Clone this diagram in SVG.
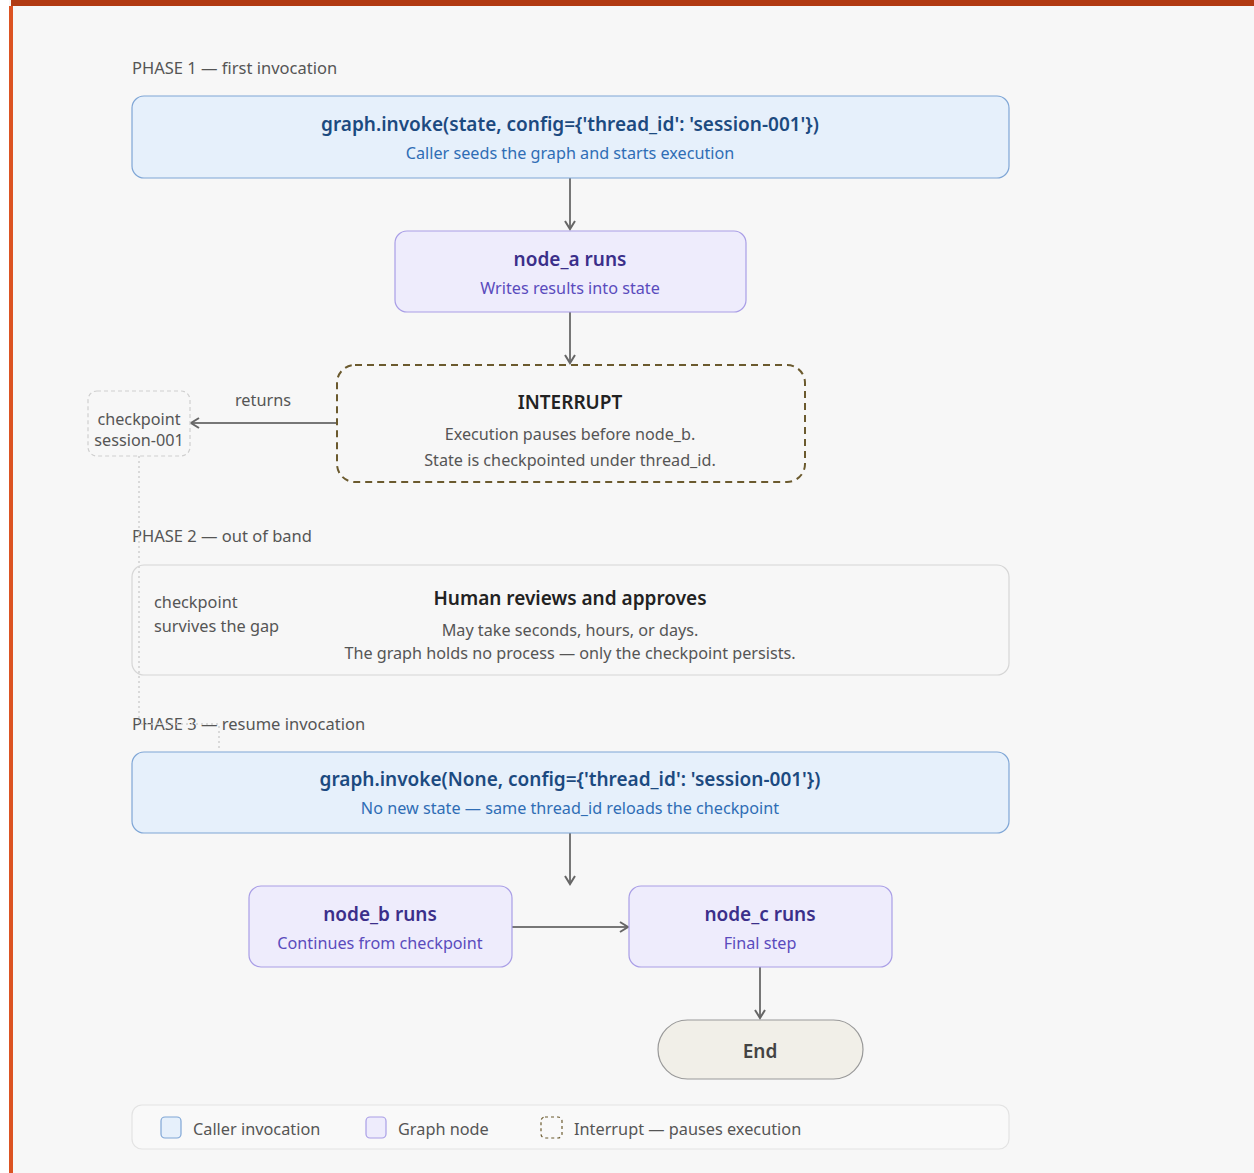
<svg xmlns="http://www.w3.org/2000/svg" width="1254" height="1173" viewBox="0 0 1254 1173">
  <style>
    text { font-family: "Noto Sans", "Open Sans", sans-serif; }
    .phase { font-size: 16.5px; fill: #555; }
    .title { font-size: 19px; font-weight: 600; text-anchor: middle; }
    .sub { font-size: 16.2px; text-anchor: middle; }
    .body { font-size: 16.3px; fill: #555; }
    .caller rect { fill: #e6f0fb; stroke: #7fa6d6; stroke-width: 1.2; }
    .caller .title { fill: #1c4a80; }
    .caller .sub { fill: #2f6db5; }
    .gnode rect { fill: #eeecfc; stroke: #a99ee6; stroke-width: 1.2; }
    .gnode .title { fill: #3b2f8a; }
    .gnode .sub { fill: #5a4bbd; }
    .edge { stroke: #777; stroke-width: 2; fill: none; }
  </style>
  <defs>
    <marker id="arrow" viewBox="0 0 12 12" refX="10" refY="6" markerWidth="12" markerHeight="12" markerUnits="userSpaceOnUse" orient="auto">
      <path d="M2,1 L10,6 L2,11" fill="none" stroke="#666" stroke-width="2"/>
    </marker>
  </defs>

  <!-- page frame -->
  <rect x="0" y="0" width="1254" height="1173" fill="#ffffff"/>
  <rect x="9" y="0" width="1245" height="1173" fill="#f7f7f7"/>
  <rect x="11" y="0" width="1243" height="6" fill="#b13a12"/>
  <rect x="9" y="6" width="4" height="1167" fill="#dc5322"/>

  <!-- section labels -->
  <text class="phase" x="132" y="74">PHASE 1 — first invocation</text>
  <text class="phase" x="132" y="542">PHASE 2 — out of band</text>
  <text class="phase" x="132" y="730">PHASE 3 — resume invocation</text>

  <g id="connectors">
    <path class="edge" d="M570,178 V229" marker-end="url(#arrow)"/>
    <path class="edge" d="M570,312 V363" marker-end="url(#arrow)"/>
    <path class="edge" d="M337,423 H191" marker-end="url(#arrow)"/>
    <text class="body" x="263" y="406" text-anchor="middle">returns</text>
    <path d="M139,456 V724 H219 V751" fill="none" stroke="#cfcfcf" stroke-width="1.5" stroke-dasharray="2 3"/>
    <path class="edge" d="M570,833 V884" marker-end="url(#arrow)"/>
    <path class="edge" d="M512,927 H628" marker-end="url(#arrow)"/>
    <path class="edge" d="M760,967 V1018" marker-end="url(#arrow)"/>
  </g>

  <g id="invoke-first" class="caller">
    <rect x="132" y="96" width="877" height="82" rx="12"/>
    <text class="title" x="570" y="131">graph.invoke(state, config={'thread_id': 'session-001'})</text>
    <text class="sub" x="570" y="159">Caller seeds the graph and starts execution</text>
  </g>

  <g id="node-a" class="gnode">
    <rect x="395" y="231" width="351" height="81" rx="12"/>
    <text class="title" x="570" y="266">node_a runs</text>
    <text class="sub" x="570" y="294">Writes results into state</text>
  </g>

  <g id="interrupt">
    <rect x="337" y="365" width="468" height="117" rx="18" fill="none" stroke="#6b5a2e" stroke-width="2" stroke-dasharray="7 5"/>
    <text class="title" x="570" y="409" fill="#222">INTERRUPT</text>
    <text class="sub" x="570" y="440" fill="#555">Execution pauses before node_b.</text>
    <text class="sub" x="570" y="466" fill="#555">State is checkpointed under thread_id.</text>
  </g>

  <g id="checkpoint">
    <rect x="88" y="391" width="102" height="65" rx="9" fill="#f7f7f7" stroke="#cfcfcf" stroke-width="1.2" stroke-dasharray="4 3"/>
    <text class="sub" x="139" y="425" fill="#555">checkpoint</text>
    <text class="sub" x="139" y="446" fill="#555">session-001</text>
  </g>

  <g id="human-review">
    <rect x="132" y="565" width="877" height="110" rx="12" fill="none" stroke="#d6d6d6" stroke-width="1.2"/>
    <text class="body" x="154" y="608">checkpoint</text>
    <text class="body" x="154" y="632">survives the gap</text>
    <text class="title" x="570" y="605" fill="#222">Human reviews and approves</text>
    <text class="sub" x="570" y="636" fill="#555">May take seconds, hours, or days.</text>
    <text class="sub" x="570" y="659" fill="#555">The graph holds no process — only the checkpoint persists.</text>
  </g>

  <g id="invoke-resume" class="caller">
    <rect x="132" y="752" width="877" height="81" rx="12"/>
    <text class="title" x="570" y="786">graph.invoke(None, config={'thread_id': 'session-001'})</text>
    <text class="sub" x="570" y="814">No new state — same thread_id reloads the checkpoint</text>
  </g>

  <g id="node-b" class="gnode">
    <rect x="249" y="886" width="263" height="81" rx="12"/>
    <text class="title" x="380" y="921">node_b runs</text>
    <text class="sub" x="380" y="949">Continues from checkpoint</text>
  </g>

  <g id="node-c" class="gnode">
    <rect x="629" y="886" width="263" height="81" rx="12"/>
    <text class="title" x="760" y="921">node_c runs</text>
    <text class="sub" x="760" y="949">Final step</text>
  </g>

  <g id="end">
    <rect x="658" y="1020" width="205" height="59" rx="29.5" fill="#f1efe8" stroke="#999" stroke-width="1.2"/>
    <text class="title" x="760" y="1058" fill="#444">End</text>
  </g>

  <g id="legend">
    <rect x="132" y="1105" width="877" height="44" rx="10" fill="#f9f9f9" stroke="#e3e3e3" stroke-width="1.2"/>
    <rect x="161" y="1117" width="20" height="21" rx="4" fill="#e6f0fb" stroke="#7fa6d6" stroke-width="1.2"/>
    <text class="body" x="193" y="1135">Caller invocation</text>
    <rect x="366" y="1117" width="20" height="21" rx="4" fill="#eeecfc" stroke="#a99ee6" stroke-width="1.2"/>
    <text class="body" x="398" y="1135">Graph node</text>
    <rect x="541" y="1117" width="21" height="21" rx="4" fill="none" stroke="#6b5a2e" stroke-width="1.2" stroke-dasharray="3 3"/>
    <text class="body" x="574" y="1135">Interrupt — pauses execution</text>
  </g>
</svg>
